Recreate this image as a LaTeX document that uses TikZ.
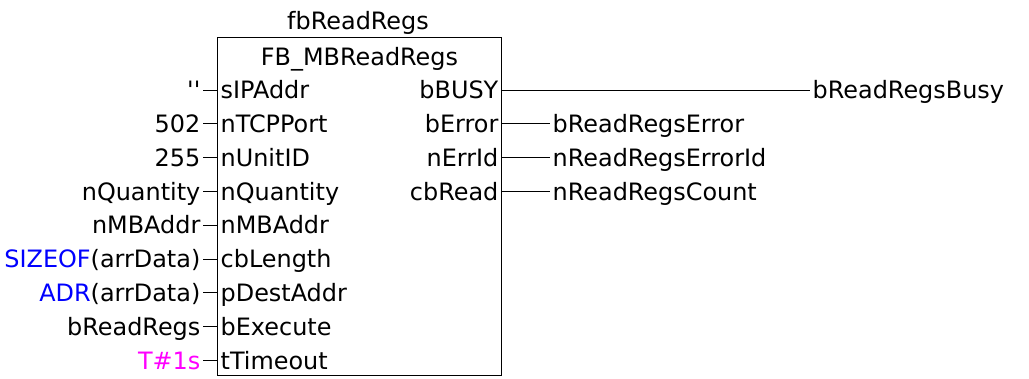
\documentclass[tikz,border=0pt]{standalone}
\usepackage{fontspec}
\usepackage{tikz}
\usetikzlibrary{positioning}
\newfontfamily\plcfont{DejaVu Sans}
\definecolor{plcblue}{HTML}{0000FF}
\definecolor{plcmagenta}{HTML}{FF00FF}
\begin{document}
\begin{tikzpicture}[
      x=0.025cm, y=-0.025cm,
      font=\plcfont\fontsize{17}{20}\selectfont,
      fbbox/.style={draw,line width=0.7pt,inner sep=0pt,minimum width=7.075cm,minimum height=8.425cm},
      txt/.style={inner ysep=0pt,inner xsep=0.06cm,text height=12.4pt,text depth=0pt},
      pinin/.style={txt,anchor=west},
      pinout/.style={txt,anchor=east},
      val/.style={txt,anchor=east},
      lbl/.style={txt,anchor=west},
      wire/.style={line width=0.7pt}
    ]
    \useasboundingbox (0,0) rectangle (1029,379);
    \node[fbbox] (fb) at (359.5,206.5) {};
    \node[txt] (inst) at (358,20.5) {fbReadRegs};
    \node[txt] (type) at (359.5,56.5) {FB\_MBReadRegs};

    \node[pinin] (sIPAddr) at (218,90) {sIPAddr};
    \node[pinin] (nTCPPort) at (218,123.8) {nTCPPort};
    \node[pinin] (nUnitID) at (218,157.6) {nUnitID};
    \node[pinin] (nQuantity) at (218,191.4) {nQuantity};
    \node[pinin] (nMBAddr) at (218,225.2) {nMBAddr};
    \node[pinin] (cbLength) at (218,259) {cbLength};
    \node[pinin] (pDestAddr) at (218,292.8) {pDestAddr};
    \node[pinin] (bExecute) at (218,326.6) {bExecute};
    \node[pinin] (tTimeout) at (218,360.4) {tTimeout};

    \node[val] (valIP) at (203,90) {''};
    \node[val] (valPort) at (203,123.8) {502};
    \node[val] (valUnit) at (203,157.6) {255};
    \node[val] (valQty) at (203,191.4) {nQuantity};
    \node[val] (valAddr) at (203,225.2) {nMBAddr};
    \node[val] (valLen) at (203,259) {\textcolor{plcblue}{SIZEOF}(arrData)};
    \node[val] (valDest) at (203,292.8) {\textcolor{plcblue}{ADR}(arrData)};
    \node[val] (valExec) at (203,326.6) {bReadRegs};
    \node[val] (valTime) at (203,360.4) {\textcolor{plcmagenta}{T\#1s}};

    \node[pinout] (bBUSY) at (501,90) {bBUSY};
    \node[pinout] (bError) at (501,123.8) {bError};
    \node[pinout] (nErrId) at (501,157.6) {nErrId};
    \node[pinout] (cbRead) at (501,191.4) {cbRead};

    \node[lbl] (lblBusy) at (810,90) {bReadRegsBusy};
    \node[lbl] (lblError) at (550,123.8) {bReadRegsError};
    \node[lbl] (lblErrId) at (550,157.6) {nReadRegsErrorId};
    \node[lbl] (lblCount) at (550,191.4) {nReadRegsCount};

    \draw[wire] (valIP) -- (sIPAddr);
    \draw[wire] (valPort) -- (nTCPPort);
    \draw[wire] (valUnit) -- (nUnitID);
    \draw[wire] (valQty) -- (nQuantity);
    \draw[wire] (valAddr) -- (nMBAddr);
    \draw[wire] (valLen) -- (cbLength);
    \draw[wire] (valDest) -- (pDestAddr);
    \draw[wire] (valExec) -- (bExecute);
    \draw[wire] (valTime) -- (tTimeout);
    \draw[wire] (bBUSY) -- (lblBusy);
    \draw[wire] (bError) -- (lblError);
    \draw[wire] (nErrId) -- (lblErrId);
    \draw[wire] (cbRead) -- (lblCount);
  \end{tikzpicture}
\end{document}
